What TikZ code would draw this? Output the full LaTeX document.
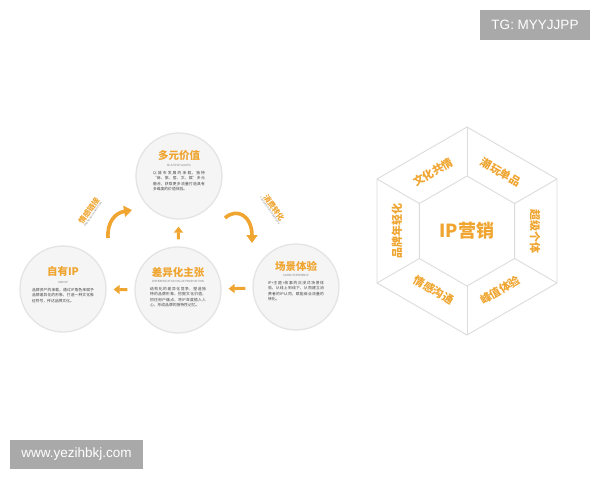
\documentclass[tikz,border=0pt]{standalone}
\usepackage{fontspec}
\setmainfont{Noto Sans CJK SC}
\newfontfamily\wmfont{Liberation Sans}
\usetikzlibrary{arrows.meta}
\XeTeXlinebreaklocale "zh"
\XeTeXlinebreakskip = 0pt plus 1pt
\definecolor{gold}{HTML}{EFA530}
\definecolor{circfill}{HTML}{F5F5F5}
\definecolor{circline}{HTML}{E4E4E4}
\definecolor{hexline}{HTML}{DCDCDC}
\definecolor{bodygray}{HTML}{444444}
\definecolor{wmgray}{HTML}{A9A9A9}
\tikzset{
  circ/.style={circle, minimum size=86pt, inner sep=0pt, fill=circfill, draw=circline, line width=1.3pt},
  ctitle/.style={font=\fontsize{10.5}{12}\selectfont\bfseries, text=gold, inner sep=0pt},
  csub/.style={font=\fontsize{2.8}{3.2}\selectfont, text=gray, inner sep=0pt},
  cbody/.style={font=\fontsize{3.8}{5.4}\selectfont, text=bodygray, text width=#1, align=justify, anchor=north, inner sep=0pt},
  cbody/.default=58pt,
  blockarrow/.style={draw=gold, line width=3pt, -{Triangle[width=9pt,length=6pt]}, shorten <=7pt, shorten >=7pt},
  curvearrow/.style={draw=gold, line width=3.6pt, -{Triangle[width=11pt,length=8pt]}},
  arrlabel/.style={font=\fontsize{7.5}{9}\selectfont\bfseries, text=gold, inner sep=0pt},
  arrsub/.style={font=\fontsize{2.4}{3}\selectfont, text=gray, inner sep=0pt, anchor=north},
  hexlabel/.style={font=\fontsize{11}{12}\selectfont\bfseries, text=gold, inner sep=0pt},
  wmbox/.style={fill=wmgray, text=white, font=\wmfont\fontsize{13.5}{15}\selectfont, inner sep=0pt}
}
\begin{document}
\begin{tikzpicture}[x=1pt,y=-1pt]
\useasboundingbox (0,0) rectangle (600,480);
\fill[white] (0,0) rectangle (600,480);

% circles
\node[circ] (top) at (179,176) {};
\node[circ] (left) at (63,289) {};
\node[circ] (mid) at (178,290) {};
\node[circ] (right) at (296,287) {};

% texts in circles
\node[ctitle] (t1) at ([yshift=20pt]top.center) {多元价值};
\node[csub] (s1) at ([yshift=11pt]top.center) {MULTIPLE VALUES};
\node[cbody=52pt] (b1) at ([yshift=5pt]top.center) {以城市发展的承载，独特“商、旅、居、文、娱”多元融合，获取更多流量打造具有多维度的价值体验。};

\node[ctitle] (t2) at ([yshift=17pt]left.center) {自有IP};
\node[csub] (s2) at ([yshift=7pt]left.center) {OWN IP};
\node[cbody=62pt] (b2) at ([yshift=1pt]left.center) {品牌资产的承载，通过IP角色来赋予品牌差异化的形象，打造一种文化象征符号，传达品牌文化。};

\node[ctitle] (t3) at ([yshift=18pt]mid.center) {差异化主张};
\node[csub] (s3) at ([yshift=9pt]mid.center) {DIFFERENTIATION VALUE PROPOSITION};
\node[cbody=56pt] (b3) at ([yshift=3pt]mid.center) {结构化的差异化竞争，塑造独特的品牌形象，挖掘文化价值，抓住用户痛点，将IP深度植入人心，形成品牌的独特性记忆。};

\node[ctitle] (t4) at ([yshift=21pt]right.center) {场景体验};
\node[csub] (s4) at ([yshift=12pt]right.center) {SCENE EXPERIENCE};
\node[cbody=56pt] (b4) at ([yshift=6pt]right.center) {IP+主题+故事的沉浸式场景体验，从线上到线下，从而建立消费者的IP认同，赋能商业流量的转化。};

% straight arrows
\draw[blockarrow] (mid) -- (top);
\draw[blockarrow] (mid) -- (left);
\draw[blockarrow] (right) -- (mid);

% curved arrows
\coordinate (ca1) at (108,238);
\coordinate (ca2) at (132,210);
\draw[curvearrow] (ca1) .. controls (107,222) and (115,213) .. (ca2);
\coordinate (cb1) at (225,218);
\coordinate (cb2) at (252,243);
\draw[curvearrow] (cb1) .. controls (237,207) and (252,216) .. (cb2);

% arrow labels
\node[arrlabel, rotate=55] (l1) at (89,211) {情感链接};
\node[arrsub, rotate=55] (l1s) at ([yshift=-0.6pt]l1.south) {EMOTIONAL CONNECTION};
\node[arrlabel, rotate=-55] (l2) at (274,208) {消费转化};
\node[arrsub, rotate=-55] (l2s) at (l2.south) {CONSUMPTION CONVERSION};

% hexagon
\coordinate (o1) at (467,127);
\coordinate (o2) at (557,179);
\coordinate (o3) at (557,283);
\coordinate (o4) at (467,335);
\coordinate (o5) at (377,283);
\coordinate (o6) at (377,179);
\coordinate (i1) at (467,176);
\coordinate (i2) at (514.6,203.5);
\coordinate (i3) at (514.6,258.5);
\coordinate (i4) at (467,286);
\coordinate (i5) at (419.4,258.5);
\coordinate (i6) at (419.4,203.5);
\draw[hexline, line width=0.9pt] (o1) -- (o2) -- (o3) -- (o4) -- (o5) -- (o6) -- cycle;
\draw[hexline, line width=0.9pt] (i1) -- (i2) -- (i3) -- (i4) -- (i5) -- (i6) -- cycle;
\foreach \k in {1,...,6} {\draw[hexline, line width=0.9pt] (o\k) -- (i\k);}

\node[hexlabel, font=\fontsize{18}{20}\selectfont\bfseries] (ip) at (467,231) {IP营销};
\node[hexlabel, rotate=30] (h1) at (433,172) {文化共情};
\node[hexlabel, rotate=-30] (h2) at (501,172) {潮玩单品};
\node[hexlabel, rotate=-90] (h3) at (535,231) {超级个体};
\node[hexlabel, rotate=30] (h4) at (500,290) {峰值体验};
\node[hexlabel, rotate=-30] (h5) at (434,290) {情感沟通};
\node[hexlabel, rotate=90] (h6) at (397,231) {品牌年轻化};

% watermark boxes
\node[wmbox, minimum width=110pt, minimum height=30pt] (tg) at (535,25) {TG: MYYJJPP};
\node[wmbox, minimum width=133pt, minimum height=29pt] (www) at (76.5,454.5) {www.yezihbkj.com};
\end{tikzpicture}
\end{document}
